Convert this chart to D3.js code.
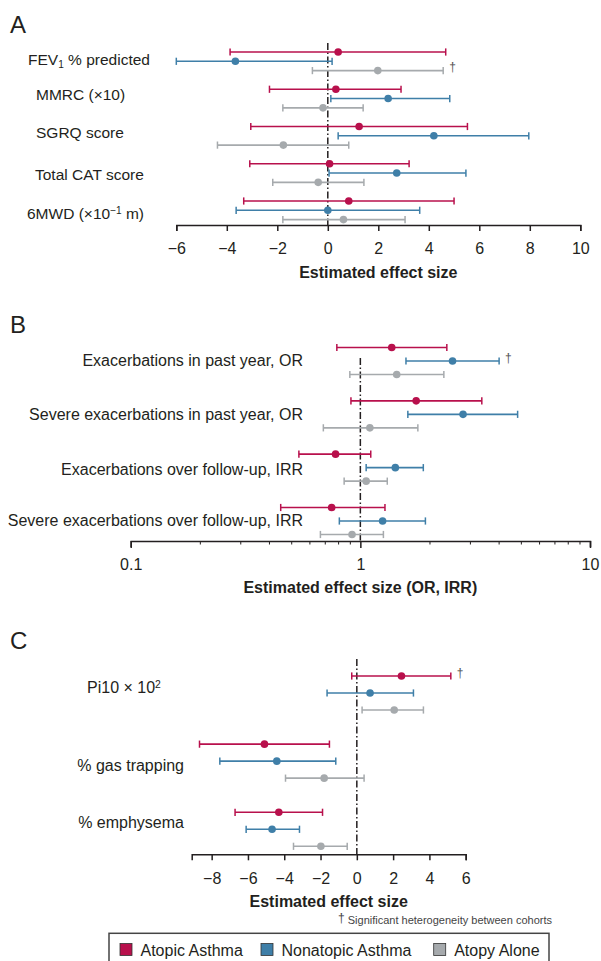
<!DOCTYPE html>
<html>
<head>
<meta charset="utf-8">
<script src="https://cdn.jsdelivr.net/npm/d3@7"></script>
<style>
  body { margin: 0; background: #fff; }
  svg { display: block; font-family: "Liberation Sans", Arial, Helvetica, sans-serif; }
</style>
</head>
<body>
<div id="chart"></div>
<script>
// cohorts (same order in every row: top = atopic asthma, bottom = atopy alone)
const groups = ["Atopic Asthma", "Nonatopic Asthma", "Atopy Alone"];

// Panel A - symptoms / lung function
const outcomesA = ["FEV_{1} % predicted", "MMRC (×10)", "SGRQ score", "Total CAT score", "6MWD (×10^{−1} m)"];
const estA  = [[0.41, -3.66, 1.98], [0.32, 2.39, -0.19], [1.24, 4.20, -1.76], [0.07, 2.73, -0.38], [0.83, 0.00, 0.62]];
const lowA  = [[-3.87, -6.00, -0.61], [-2.31, 0.12, -1.78], [-3.05, 0.41, -4.37], [-3.09, 0.05, -2.18], [-3.33, -3.63, -1.78]];
const highA = [[4.67, 0.17, 4.57], [2.90, 4.83, 1.40], [5.53, 7.96, 0.83], [3.22, 5.47, 1.43], [5.00, 3.64, 3.06]];
const heteroA = [[0, 2]];   // [row, cohort] with significant heterogeneity
const ticksA = [-6, -4, -2, 0, 2, 4, 6, 8, 10];

// Panel B - exacerbations (log scale)
const outcomesB = ["Exacerbations in past year, OR", "Severe exacerbations in past year, OR",
                   "Exacerbations over follow-up, IRR", "Severe exacerbations over follow-up, IRR"];
const estB  = [[1.37, 2.52, 1.44], [1.75, 2.80, 1.10], [0.78, 1.42, 1.06], [0.75, 1.25, 0.92]];
const lowB  = [[0.79, 1.58, 0.90], [0.91, 1.61, 0.69], [0.54, 1.06, 0.85], [0.45, 0.81, 0.67]];
const highB = [[2.38, 4.02, 2.31], [3.38, 4.84, 1.78], [1.11, 1.88, 1.31], [1.28, 1.92, 1.26]];
const heteroB = [[0, 1]];
const majorTicksB = [0.1, 1, 10];

// Panel C - CT imaging
const outcomesC = ["Pi10 × 10^{2}", "% gas trapping", "% emphysema"];
const estC  = [[2.46, 0.73, 2.06], [-5.09, -4.41, -1.80], [-4.30, -4.67, -1.98]];
const lowC  = [[-0.28, -1.64, 0.29], [-8.67, -7.55, -3.93], [-6.71, -6.10, -3.49]];
const highC = [[5.18, 3.12, 3.67], [-1.51, -1.16, 0.40], [-1.89, -3.16, -0.53]];
const heteroC = [[0, 0]];
const ticksC = [-8, -6, -4, -2, 0, 2, 4, 6];

const colors = ["#b8104c", "#3f7fa8", "#a6aaad"];
const ink = "#231f20";

const minorB = d3.range(-1, 1).flatMap(e => d3.range(1, 10).map(m => +(m * Math.pow(10, e)).toPrecision(2))).concat([10]);

const panels = [
  { letter: "A", letterY: 33,
    outcomes: outcomesA, est: estA, low: lowA, high: highA, hetero: heteroA,
    x: d3.scaleLinear().domain([-6, 10]).range([176.3, 580.3]),
    tickValues: ticksA, ref: 0,
    rowRange: [61.3, 210.3], off: 9.3,
    axisY: 225, refTop: 43, title: "Estimated effect size", titleY: 277.5,
    labelSize: 15.5, labelAnchor: "start",
    labelX: [28, 36, 36, 35, 27], labelDy: [3.7, 1.3, 2.6, 7, 8.7] },
  { letter: "B", letterY: 333,
    outcomes: outcomesB, est: estB, low: lowB, high: highB, hetero: heteroB,
    x: d3.scaleLog().domain([0.1, 10]).range([130.7, 590]),
    tickValues: minorB, major: majorTicksB, ref: 1,
    rowRange: [361, 521], off: 13.5,
    axisY: 541, refTop: 358, title: "Estimated effect size (OR, IRR)", titleY: 592.5,
    labelSize: 16, labelAnchor: "end",
    labelX: [303, 303, 303, 303], labelDy: [4.5, 5.5, 7.5, 4.7] },
  { letter: "C", letterY: 649,
    outcomes: outcomesC, est: estC, low: lowC, high: highC, hetero: heteroC,
    x: d3.scaleLinear().domain([-9.1, 6]).range([191.7, 465.7]),
    tickValues: ticksC, ref: 0,
    rowRange: [693, 829.3], off: 17,
    axisY: 854.3, refTop: 659, title: "Estimated effect size", titleY: 907,
    labelSize: 16, labelAnchor: ["start", "end", "end"],
    labelX: [87, 184, 184], labelDy: [0, 9.7, -1.3] }
];

const svg = d3.select("#chart").append("svg")
  .attr("width", 601)
  .attr("height", 961);

// text with _{sub} and ^{sup} markup
function richText(sel, str, size) {
  str.split(/(_\{[^}]*\}|\^\{[^}]*\})/).filter(s => s).forEach(part => {
    if (part.startsWith("_{")) {
      sel.append("tspan").attr("font-size", size * 0.65).attr("baseline-shift", "-25%").text(part.slice(2, -1));
    } else if (part.startsWith("^{")) {
      sel.append("tspan").attr("font-size", size * 0.65).attr("baseline-shift", "55%").text(part.slice(2, -1));
    } else {
      sel.append("tspan").text(part);
    }
  });
}

panels.forEach(p => {
  const g = svg.append("g").attr("class", "panel-" + p.letter);
  const y = d3.scalePoint().domain(d3.range(p.outcomes.length)).range(p.rowRange);
  const dy = d3.scalePoint().domain(d3.range(groups.length)).range([-p.off, p.off]);

  // panel letter
  g.append("text")
    .attr("x", 10)
    .attr("y", p.letterY)
    .attr("font-size", 24)
    .attr("fill", ink)
    .text(p.letter);

  // axis
  const axis = d3.axisBottom(p.x)
    .tickValues(p.tickValues)
    .tickSizeOuter(0)
    .tickSize(6)
    .tickPadding(12);
  if (p.major) axis.tickFormat(d => p.major.includes(d) ? d3.format("~g")(d) : "");
  else axis.tickFormat(d3.format("~g"));

  const ax = g.append("g")
    .attr("transform", `translate(0,${p.axisY})`)
    .call(axis);
  ax.select(".domain").attr("stroke", ink).attr("stroke-width", 1.5);
  ax.selectAll(".tick line").attr("stroke", ink).attr("stroke-width", 1.5);
  ax.selectAll(".tick text").attr("fill", ink).attr("font-size", 16).attr("font-family", null);
  if (p.major) {
    ax.selectAll(".tick line").attr("y2", d => p.major.includes(d) ? 7 : 3.5).attr("stroke-width", d => p.major.includes(d) ? 1.5 : 1);
    ax.selectAll(".tick text").attr("y", 7 + 11);
  }

  // axis title
  g.append("text")
    .attr("x", d3.mean(p.x.range()))
    .attr("y", p.titleY)
    .attr("text-anchor", "middle")
    .attr("font-size", 16)
    .attr("font-weight", "bold")
    .attr("fill", ink)
    .text(p.title);

  // reference line (no effect)
  g.append("line")
    .attr("x1", p.x(p.ref)).attr("x2", p.x(p.ref))
    .attr("y1", p.refTop).attr("y2", p.axisY)
    .attr("stroke", ink)
    .attr("stroke-width", 1.5)
    .attr("stroke-dasharray", "7,2.5,1.5,2.5");

  // outcome labels
  p.outcomes.forEach((o, i) => {
    const t = g.append("text")
      .attr("x", p.labelX[i])
      .attr("y", y(i) + p.labelDy[i])
      .attr("text-anchor", Array.isArray(p.labelAnchor) ? p.labelAnchor[i] : p.labelAnchor)
      .attr("font-size", p.labelSize)
      .attr("fill", ink);
    richText(t, o, p.labelSize);
  });

  // error bars + point estimates
  const rows = [];
  p.est.forEach((r, i) => r.forEach((v, k) => rows.push({ i, k, est: v, low: p.low[i][k], high: p.high[i][k] })));

  const bar = g.selectAll(".bar")
    .data(rows)
    .join("g")
    .attr("class", "bar")
    .attr("transform", d => `translate(0,${y(d.i) + dy(d.k)})`)
    .attr("stroke", d => colors[d.k])
    .attr("fill", d => colors[d.k]);

  bar.append("line")
    .attr("x1", d => p.x(d.low)).attr("x2", d => p.x(d.high))
    .attr("stroke-width", 1.6);
  bar.append("line")
    .attr("x1", d => p.x(d.low)).attr("x2", d => p.x(d.low))
    .attr("y1", -3.6).attr("y2", 3.6)
    .attr("stroke-width", 1.5);
  bar.append("line")
    .attr("x1", d => p.x(d.high)).attr("x2", d => p.x(d.high))
    .attr("y1", -3.6).attr("y2", 3.6)
    .attr("stroke-width", 1.5);
  bar.append("circle")
    .attr("cx", d => p.x(d.est))
    .attr("r", 3.8)
    .attr("stroke", "none");

  // heterogeneity daggers
  p.hetero.forEach(([i, k]) => {
    g.append("text")
      .attr("x", p.x(p.high[i][k]) + 6)
      .attr("y", y(i) + dy(k) + 0.5)
      .attr("font-size", 12)
      .attr("fill", "#555")
      .text("†");
  });
});

// footnote
const foot = svg.append("text")
  .attr("x", 552)
  .attr("y", 924)
  .attr("text-anchor", "end")
  .attr("font-size", 11)
  .attr("fill", "#444");
foot.append("tspan").attr("font-size", 12).attr("baseline-shift", "20%").text("†");
foot.append("tspan").text(" Significant heterogeneity between cohorts");

// legend
const legendX = [120, 261, 433.7];
const legend = svg.append("g").attr("class", "legend");
legend.append("rect")
  .attr("x", 109).attr("y", 933.3)
  .attr("width", 440).attr("height", 40)
  .attr("fill", "none")
  .attr("stroke", "#444")
  .attr("stroke-width", 1.5);
groups.forEach((name, k) => {
  legend.append("rect")
    .attr("x", legendX[k]).attr("y", 943.5)
    .attr("width", 12).attr("height", 12)
    .attr("fill", colors[k])
    .attr("stroke", "#333")
    .attr("stroke-width", 0.8);
  legend.append("text")
    .attr("x", legendX[k] + 20.5)
    .attr("y", 955.5)
    .attr("font-size", 16)
    .attr("fill", ink)
    .text(name);
});
</script>
</body>
</html>
